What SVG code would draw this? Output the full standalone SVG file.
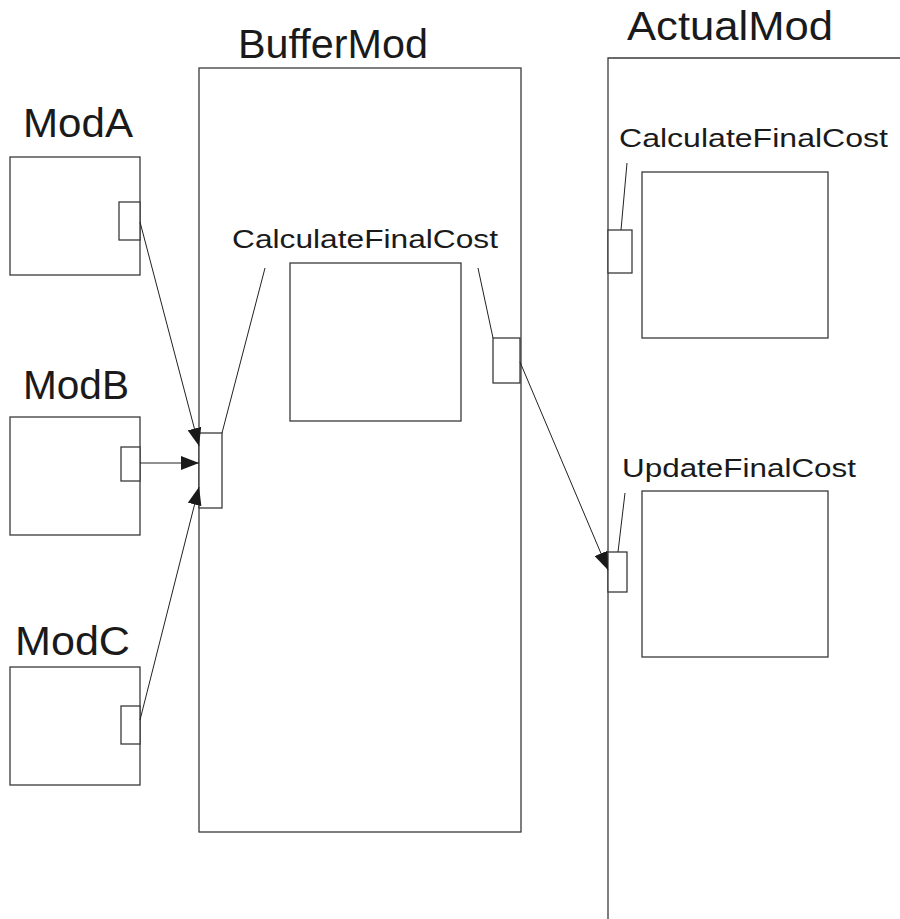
<svg xmlns="http://www.w3.org/2000/svg" width="900" height="919" viewBox="0 0 900 919">
  <style>
    .box { fill: #fff; stroke: #3a3a3a; stroke-width: 1.3; }
    .port { fill: #fff; stroke: #3a3a3a; stroke-width: 1.3; }
    .title { font-family: "Liberation Sans", "DejaVu Sans", sans-serif; font-size: 40px; fill: #1a1a1a; }
    .label { font-family: "Liberation Sans", "DejaVu Sans", sans-serif; font-size: 26px; fill: #1a1a1a; }
    .lead { stroke: #222; stroke-width: 1; fill: none; }
    .conn { stroke: #222; stroke-width: 1; fill: none; marker-end: url(#arrow); }
  </style>
  <defs>
    <marker id="arrow" viewBox="0 0 18 14" refX="18" refY="7" markerWidth="18" markerHeight="14" markerUnits="userSpaceOnUse" orient="auto">
      <path d="M0,0 L18,7 L0,14 z" fill="#1a1a1a"/>
    </marker>
  </defs>
  <rect width="900" height="919" fill="#fff"/>

  <!-- calling modules -->
  <g id="ModA">
    <text class="title" x="23" y="137" textLength="110" lengthAdjust="spacingAndGlyphs">ModA</text>
    <rect class="box" x="10" y="157" width="130" height="118"/>
    <rect class="port" x="119" y="202" width="21" height="38"/>
  </g>
  <g id="ModB">
    <text class="title" x="23" y="399" textLength="106" lengthAdjust="spacingAndGlyphs">ModB</text>
    <rect class="box" x="10" y="417" width="130" height="118"/>
    <rect class="port" x="121" y="447" width="19" height="34"/>
  </g>
  <g id="ModC">
    <text class="title" x="15" y="655" textLength="115" lengthAdjust="spacingAndGlyphs">ModC</text>
    <rect class="box" x="10" y="667" width="130" height="118"/>
    <rect class="port" x="121" y="706" width="19" height="38"/>
  </g>

  <!-- buffer module -->
  <g id="BufferMod">
    <text class="title" x="238" y="58" textLength="190" lengthAdjust="spacingAndGlyphs">BufferMod</text>
    <rect class="box" x="199" y="68" width="322" height="764"/>
    <text class="label" x="232" y="248" textLength="266" lengthAdjust="spacingAndGlyphs">CalculateFinalCost</text>
    <rect class="box" x="290" y="263" width="171" height="158"/>
    <rect class="port" x="199" y="433" width="23" height="75"/>
    <rect class="port" x="493" y="338" width="27" height="45"/>
    <line class="lead" x1="265" y1="268" x2="222" y2="433"/>
    <line class="lead" x1="478" y1="268" x2="493" y2="338"/>
  </g>

  <!-- target module -->
  <g id="ActualMod">
    <text class="title" x="627" y="40" textLength="206" lengthAdjust="spacingAndGlyphs">ActualMod</text>
    <path class="box" d="M900,58 H608 V919"/>
    <text class="label" x="619" y="147" textLength="269" lengthAdjust="spacingAndGlyphs">CalculateFinalCost</text>
    <rect class="box" x="642" y="172" width="186" height="166"/>
    <rect class="port" x="608" y="230" width="24" height="43"/>
    <line class="lead" x1="627" y1="163" x2="621" y2="230"/>
    <text class="label" x="622" y="477" textLength="234" lengthAdjust="spacingAndGlyphs">UpdateFinalCost</text>
    <rect class="box" x="642" y="491" width="186" height="166"/>
    <rect class="port" x="608" y="552" width="19" height="40"/>
    <line class="lead" x1="625" y1="493" x2="618" y2="552"/>
  </g>

  <!-- connectors -->
  <g id="connectors">
    <line class="conn" x1="140" y1="222" x2="199" y2="446"/>
    <line class="conn" x1="140" y1="463" x2="199" y2="463"/>
    <line class="conn" x1="140" y1="720" x2="199" y2="487"/>
    <line class="conn" x1="520" y1="362" x2="608" y2="570"/>
  </g>
</svg>
